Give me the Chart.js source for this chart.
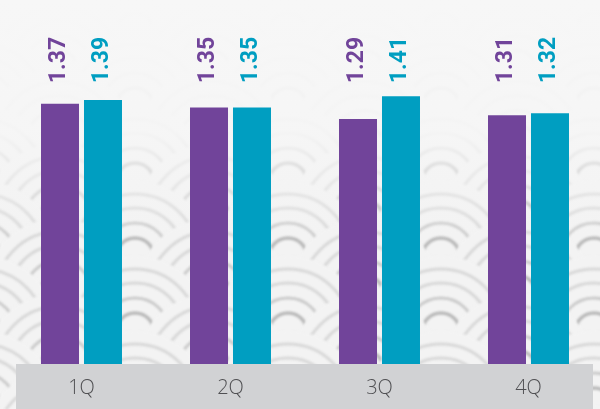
<!DOCTYPE html>
<html>
<head>
<meta charset="utf-8">
<script src="https://cdn.jsdelivr.net/npm/chart.js@4/dist/chart.umd.min.js"></script>
<style>
    html, body { margin: 0; padding: 0; overflow: hidden; background: #f3f3f3; }
    #wrap { position: relative; width: 603px; height: 409px; }
</style>
</head>
<body>
<div id="wrap"><canvas id="quarterChart"></canvas></div>
<script>
var quarters = ['1Q', '2Q', '3Q', '4Q'];
var seriesA = [1.37, 1.35, 1.29, 1.31];
var seriesB = [1.39, 1.35, 1.41, 1.32];

var purple = '#71449a';
var teal = '#009ec1';

// wave (seigaiha) background + grey axis band
var backgroundPlugin = {
    id: 'waveBackground',
    beforeDraw: function(chart) {
        var ctx = chart.ctx;
        var w = chart.width, h = chart.height;
        var area = chart.chartArea;
        ctx.save();
        ctx.fillStyle = '#f3f3f3';
        ctx.fillRect(0, 0, w, h);

        var R = 76;
        var rings = [19, 34, 49, 63];
        ctx.filter = 'blur(1.2px)';
        for (var r = -8; r <= 6; r++) {
            var cy = 257 + 37.5 * r;
            var offX = (r % 2 === 0) ? 135 : 58.5;
            for (var k = -2; k <= 4; k++) {
                var cx = offX + 153 * k;
                ctx.beginPath();
                ctx.arc(cx, cy, R, 0, Math.PI * 2);
                ctx.fillStyle = '#f3f3f3';
                ctx.fill();
                rings.forEach(function(rad, i) {
                    ctx.beginPath();
                    ctx.arc(cx, cy, rad, Math.PI, Math.PI * 2);
                    ctx.strokeStyle = i === 0 ? '#bababa' : (i === 1 ? '#cbcbcb' : '#d8d8d8');
                    ctx.lineWidth = i === 0 ? 3.5 : 3;
                    ctx.stroke();
                });
            }
        }
        ctx.filter = 'none';

        // fade the pattern towards the top
        var grad = ctx.createLinearGradient(0, 0, 0, 240);
        grad.addColorStop(0, 'rgba(247,247,247,1)');
        grad.addColorStop(0.55, 'rgba(246,246,246,0.92)');
        grad.addColorStop(1, 'rgba(244,244,244,0)');
        ctx.fillStyle = grad;
        ctx.fillRect(0, 0, w, 240);

        ctx.fillStyle = '#d1d2d4';
        ctx.fillRect(16, area.bottom, 577, h - area.bottom);
        ctx.restore();
    }
};

// rotated value labels, all sitting at the same height
var valueLabelPlugin = {
    id: 'valueLabels',
    afterDatasetsDraw: function(chart) {
        var ctx = chart.ctx;
        ctx.save();
        ctx.font = 'bold 23px Roboto, "Open Sans", sans-serif';
        ctx.textAlign = 'center';
        ctx.textBaseline = 'middle';
        chart.data.datasets.forEach(function(ds, di) {
            var meta = chart.getDatasetMeta(di);
            meta.data.forEach(function(bar, i) {
                ctx.save();
                ctx.translate(bar.x - 1, 60);
                ctx.rotate(-Math.PI / 2);
                ctx.fillStyle = ds.backgroundColor;
                ctx.fillText(ds.data[i].toFixed(2), 0, 0);
                ctx.restore();
            });
        });
        ctx.restore();
    }
};

var ctx = document.getElementById('quarterChart').getContext('2d');
var quarterChart = new Chart(ctx, {
    type: 'bar',
    data: {
        labels: quarters,
        datasets: [{
            label: 'A',
            data: seriesA,
            backgroundColor: purple,
            categoryPercentage: 0.577,
            barPercentage: 0.884
        }, {
            label: 'B',
            data: seriesB,
            backgroundColor: teal,
            categoryPercentage: 0.577,
            barPercentage: 0.884
        }]
    },
    options: {
        responsive: true,
        maintainAspectRatio: false,
        animation: false,
        layout: { padding: { left: 7, right: 0, top: 0, bottom: 0 } },
        plugins: {
            legend: { display: false },
            tooltip: { enabled: false }
        },
        scales: {
            x: {
                grid: { display: false, drawTicks: false },
                border: { display: false },
                ticks: {
                    color: '#505053',
                    padding: 12,
                    font: { family: '"Open Sans", sans-serif', size: 20, weight: 300 }
                },
                afterFit: function(scale) { scale.height = 45; }
            },
            y: {
                display: false,
                min: 0,
                max: 1.916
            }
        }
    },
    plugins: [backgroundPlugin, valueLabelPlugin]
});
</script>
</body>
</html>
